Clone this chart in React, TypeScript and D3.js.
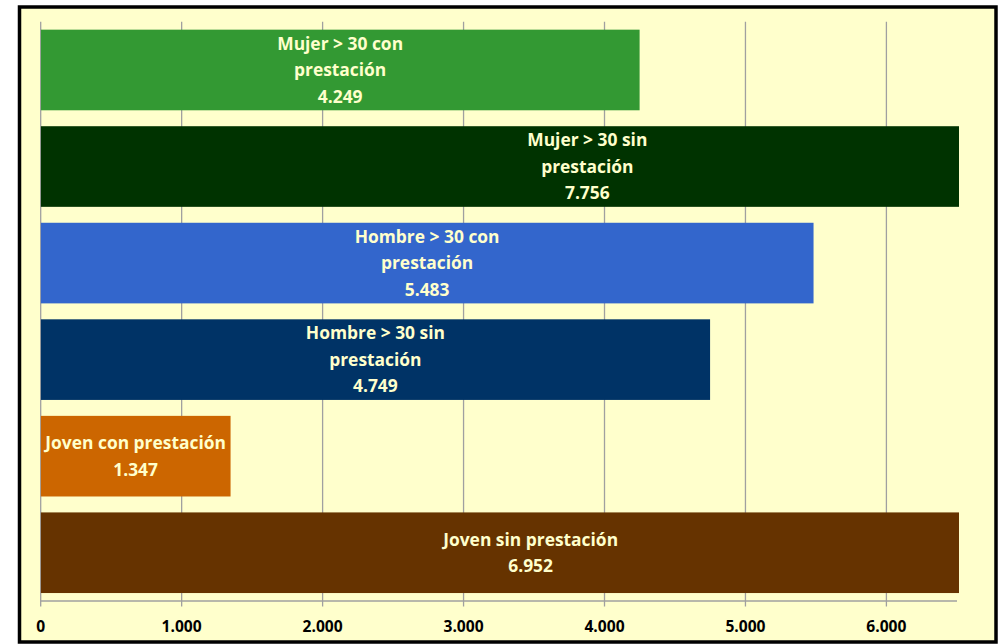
import React from "react";
import * as d3 from "d3";

const categories = [
  ["Mujer > 30 con", "prestación"],
  ["Mujer > 30 sin", "prestación"],
  ["Hombre > 30 con", "prestación"],
  ["Hombre > 30 sin", "prestación"],
  ["Joven con prestación"],
  ["Joven sin prestación"],
];
const values = [4249, 7756, 5483, 4749, 1347, 6952];
const colors = ["#339933", "#003300", "#3366CC", "#003366", "#CC6600", "#663300"];
const ticks = [0, 1000, 2000, 3000, 4000, 5000, 6000];

const W = 998;
const H = 644;
const plot = { left: 40.7, right: 959, top: 21.7, bottom: 601 };
const fmt = (v: number) => d3.format(",")(v).replace(/,/g, ".");

export default function App() {
  const x = d3.scaleLinear().domain([0, 6515]).range([plot.left, plot.right]);
  const y = d3
    .scaleBand<number>()
    .domain(d3.range(values.length))
    .range([plot.top, plot.bottom])
    .paddingInner(0.165)
    .paddingOuter(0.0825);
  const font = "'Open Sans', Lato, sans-serif";
  const lh = 26.5;
  return (
    <svg
      width={W}
      height={H}
      style={{ position: "absolute", left: 0, top: 0, background: "#fff" }}
      fontFamily={font}
    >
      <defs>
        <clipPath id="plotclip">
          <rect x={plot.left} y={0} width={plot.right - plot.left} height={H} />
        </clipPath>
      </defs>
      <rect x={19.5} y={7} width={976.5} height={635} fill="#FFFFCC" stroke="#000" strokeWidth={3.5} />
      {ticks.map((t) => (
        <line key={t} x1={x(t)} x2={x(t)} y1={plot.top} y2={plot.bottom + 5.5} stroke="#A0A0A0" strokeWidth={1.3} />
      ))}
      <line x1={plot.left} x2={957} y1={plot.bottom} y2={plot.bottom} stroke="#A0A0A0" strokeWidth={1.3} />
      <g clipPath="url(#plotclip)">
        {values.map((v, i) => (
          <rect key={i} x={x(0)} y={y(i)!} width={x(v) - x(0)} height={y.bandwidth()} fill={colors[i]} />
        ))}
      </g>
      {values.map((v, i) => {
        const lines = [...categories[i], fmt(v)];
        const cx = (x(0) + x(v)) / 2;
        const cy = y(i)! + y.bandwidth() / 2;
        const y0 = cy - ((lines.length - 1) * lh) / 2;
        return (
          <text key={i} textAnchor="middle" fill="#FFFFCC" fontWeight="bold" fontSize={17.4}>
            {lines.map((l, j) => (
              <tspan key={j} x={cx} y={y0 + j * lh} dy="0.35em">
                {l}
              </tspan>
            ))}
          </text>
        );
      })}
      {ticks.map((t) => (
        <text key={t} x={x(t)} y={627} dy="0.35em" textAnchor="middle" fontWeight="bold" fontSize={15.6} fill="#000">
          {fmt(t)}
        </text>
      ))}
    </svg>
  );
}
